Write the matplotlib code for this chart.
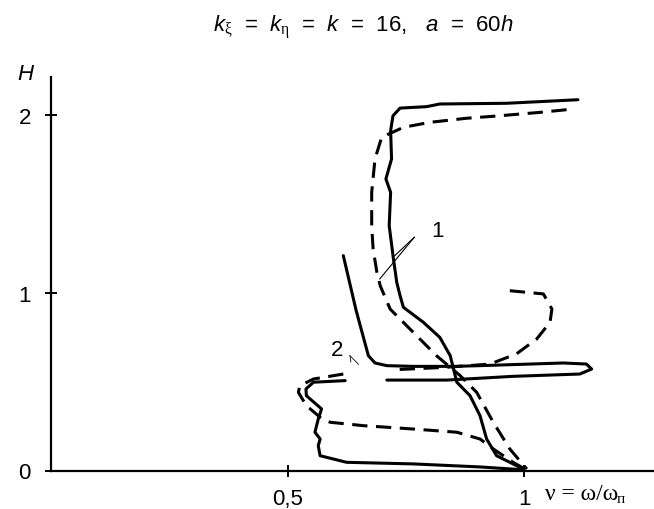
import matplotlib.pyplot as plt

plt.rcParams['font.family'] = ['Liberation Sans', 'DejaVu Sans']
plt.rcParams['mathtext.fontset'] = 'custom'
plt.rcParams['mathtext.rm'] = 'Liberation Sans'
plt.rcParams['mathtext.it'] = 'Liberation Sans:italic'
plt.rcParams['mathtext.sf'] = 'Liberation Serif'

# curve 1, solid
s1_x = [1.114, 0.963, 0.822, 0.794, 0.738, 0.723, 0.718, 0.720, 0.708, 0.718, 0.715, 0.724,
        0.731, 0.738, 0.745, 0.787, 0.822, 0.844, 0.851, 0.858, 0.886, 0.907, 0.921, 0.942, 0.999]
s1_y = [2.083, 2.063, 2.059, 2.044, 2.036, 1.993, 1.909, 1.750, 1.638, 1.563, 1.375, 1.188,
        1.057, 0.982, 0.917, 0.833, 0.748, 0.645, 0.570, 0.496, 0.420, 0.308, 0.177, 0.083, 0.008]

# curve 1, dashed
d1_x = [1.090, 1.034, 0.935, 0.879, 0.801, 0.745, 0.699, 0.685, 0.678, 0.678, 0.681,
        0.689, 0.696, 0.717, 0.766, 0.815, 0.865, 0.900, 0.935, 0.970, 1.006]
d1_y = [2.027, 2.012, 1.990, 1.979, 1.956, 1.928, 1.872, 1.750, 1.563, 1.375, 1.244,
        1.113, 1.038, 0.907, 0.776, 0.645, 0.533, 0.439, 0.271, 0.121, 0.008]

# curve 2, solid
s2_x = [0.618, 0.645, 0.671, 0.685, 0.710, 0.766, 0.851, 0.907, 1.083, 1.132, 1.143, 1.118,
        0.977, 0.837, 0.710]
s2_y = [1.207, 0.900, 0.645, 0.604, 0.589, 0.585, 0.585, 0.589, 0.604, 0.598, 0.570, 0.542,
        0.529, 0.508, 0.508]
s2b_x = [0.622, 0.555, 0.539, 0.540, 0.572, 0.565, 0.558, 0.569, 0.565, 0.569, 0.625,
         0.766, 0.907, 0.999]
s2b_y = [0.505, 0.496, 0.458, 0.420, 0.346, 0.289, 0.215, 0.177, 0.139, 0.083, 0.046,
         0.037, 0.020, 0.004]

# curve 2, dashed
d2_x = [0.970, 1.041, 1.059, 1.055, 1.027, 0.984, 0.928, 0.837, 0.724]
d2_y = [1.010, 0.992, 0.907, 0.833, 0.739, 0.655, 0.598, 0.580, 0.566]
d2b_x = [0.618, 0.555, 0.526, 0.523, 0.540, 0.569, 0.590, 0.660, 0.766, 0.858, 0.907,
         0.935, 0.977, 1.002]
d2b_y = [0.542, 0.514, 0.476, 0.439, 0.364, 0.299, 0.271, 0.252, 0.233, 0.215, 0.177,
         0.121, 0.046, 0.008]

fig = plt.figure(figsize=(6.54, 5.10), dpi=100)
ax = fig.add_axes([51 / 654, 38.5 / 510, 603 / 654, 393.5 / 510])
ax.set_xlim(0, 603 / 473)
ax.set_ylim(0, 393.5 / 178)

lw = 2.2
dash = (0, (5, 2.8))
ax.plot(s1_x, s1_y, color='black', lw=lw, solid_capstyle='round')
ax.plot(s2_x, s2_y, color='black', lw=lw, solid_capstyle='round')
ax.plot(s2b_x, s2b_y, color='black', lw=lw, solid_capstyle='round')
ax.plot(d1_x, d1_y, color='black', lw=lw, linestyle=dash)
ax.plot(d2_x, d2_y, color='black', lw=lw, linestyle=dash)
ax.plot(d2b_x, d2b_y, color='black', lw=lw, linestyle=dash)

# leaders for labels 1 and 2
ax.plot([0.768, 0.726], [1.310, 1.205], color='black', lw=0.8)
ax.plot([0.768, 0.695], [1.310, 1.076], color='black', lw=0.8)
ax.text(0.818, 1.35, '1', fontsize=16, ha='center', va='center')
ax.text(0.604, 0.682, '2', fontsize=16, ha='center', va='center')
ax.plot([0.632, 0.650], [0.645, 0.597], color='black', lw=0.6)
ax.plot([0.632, 0.634], [0.645, 0.610], color='black', lw=0.6)

for sp in ['top', 'right']:
    ax.spines[sp].set_visible(False)
for sp in ['left', 'bottom']:
    ax.spines[sp].set_linewidth(1.6)

ax.set_xticks([0.5, 1.0])
ax.set_xticklabels(['0,5', '1'])
ax.set_yticks([0, 1, 2])
ax.set_yticklabels(['0', '1', '2'])
ax.tick_params(direction='inout', length=9, width=1.4, labelsize=16)
ax.tick_params(axis='y', pad=10)
ax.tick_params(axis='x', pad=8)

ax.text(-0.055, 2.23, 'H', fontsize=16, style='italic', ha='center', va='center',
        clip_on=False)
fig.text(545 / 654, 1 - 495 / 510, 'ν = ω/ω', fontsize=17, family='Liberation Serif',
         ha='left', va='center')
fig.text(617 / 654, 1 - 500 / 510, 'п', fontsize=11, family='Liberation Serif',
         ha='left', va='center')

fig.text(363 / 654, 1 - 28 / 510,
         r'$k_{\mathsf{\xi}}$  =  $k_{\mathsf{\eta}}$  =  $k$  =  16,   $a$  =  60$h$',
         fontsize=16, ha='center', va='center')

fig.savefig('out.png', dpi=100)
